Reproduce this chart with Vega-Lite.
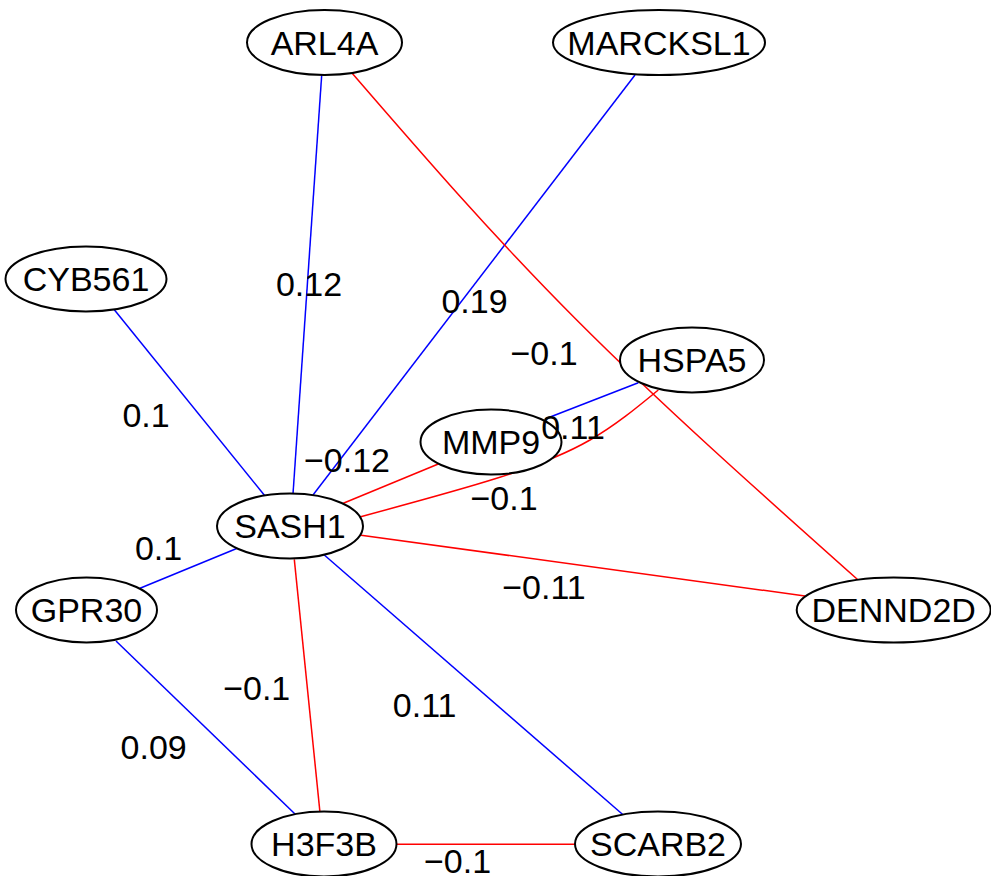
{
  "$schema": "https://vega.github.io/schema/vega-lite/v6.json",
  "width": 991,
  "height": 876,
  "padding": 0,
  "autosize": {"type": "none"},
  "background": "white",
  "config": {"view": {"stroke": null}},
  "datasets": {
    "nodes": [
      {"node": "ARL4A", "x": 324.5, "y": 42.5},
      {"node": "MARCKSL1", "x": 659, "y": 42.5},
      {"node": "CYB561", "x": 86, "y": 279},
      {"node": "HSPA5", "x": 692, "y": 360},
      {"node": "MMP9", "x": 491, "y": 442},
      {"node": "SASH1", "x": 290, "y": 526},
      {"node": "GPR30", "x": 86.5, "y": 610},
      {"node": "DENND2D", "x": 893.7, "y": 610},
      {"node": "H3F3B", "x": 324, "y": 844},
      {"node": "SCARB2", "x": 658, "y": 844}
    ],
    "edges": [
      {"edge": "ARL4A-SASH1", "i": 0, "x": 321.7, "y": 75, "w": 0.12},
      {"edge": "ARL4A-SASH1", "i": 1, "x": 293, "y": 494, "w": 0.12},
      {"edge": "MARCKSL1-SASH1", "i": 0, "x": 635, "y": 75, "w": 0.19},
      {"edge": "MARCKSL1-SASH1", "i": 1, "x": 313, "y": 495, "w": 0.19},
      {"edge": "ARL4A-DENND2D", "i": 0, "x": 351.7, "y": 72.7, "w": -0.1},
      {"edge": "ARL4A-DENND2D", "i": 1, "x": 576.7, "y": 320, "w": -0.1},
      {"edge": "ARL4A-DENND2D", "i": 2, "x": 857.3, "y": 579.3, "w": -0.1},
      {"edge": "CYB561-SASH1", "i": 0, "x": 112.7, "y": 307.7, "w": 0.1},
      {"edge": "CYB561-SASH1", "i": 1, "x": 265, "y": 496, "w": 0.1},
      {"edge": "HSPA5-MMP9", "i": 0, "x": 545, "y": 419, "w": 0.11},
      {"edge": "HSPA5-MMP9", "i": 1, "x": 638.3, "y": 382.7, "w": 0.11},
      {"edge": "SASH1-MMP9", "i": 0, "x": 343.3, "y": 503.3, "w": -0.12},
      {"edge": "SASH1-MMP9", "i": 1, "x": 438.3, "y": 464, "w": -0.12},
      {"edge": "SASH1-HSPA5", "i": 0, "x": 360.7, "y": 516.7, "w": -0.1},
      {"edge": "SASH1-HSPA5", "i": 1, "x": 496.7, "y": 478.3, "w": -0.1},
      {"edge": "SASH1-HSPA5", "i": 2, "x": 590, "y": 440, "w": -0.1},
      {"edge": "SASH1-HSPA5", "i": 3, "x": 658.3, "y": 390, "w": -0.1},
      {"edge": "SASH1-DENND2D", "i": 0, "x": 359.3, "y": 535, "w": -0.11},
      {"edge": "SASH1-DENND2D", "i": 1, "x": 805, "y": 596, "w": -0.11},
      {"edge": "SASH1-GPR30", "i": 0, "x": 237.3, "y": 548.3, "w": 0.1},
      {"edge": "SASH1-GPR30", "i": 1, "x": 140, "y": 588.3, "w": 0.1},
      {"edge": "SASH1-H3F3B", "i": 0, "x": 294.3, "y": 559.3, "w": -0.1},
      {"edge": "SASH1-H3F3B", "i": 1, "x": 320, "y": 812.7, "w": -0.1},
      {"edge": "SASH1-SCARB2", "i": 0, "x": 324.3, "y": 555, "w": 0.11},
      {"edge": "SASH1-SCARB2", "i": 1, "x": 623.3, "y": 815, "w": 0.11},
      {"edge": "GPR30-H3F3B", "i": 0, "x": 116, "y": 641, "w": 0.09},
      {"edge": "GPR30-H3F3B", "i": 1, "x": 295, "y": 814, "w": 0.09},
      {"edge": "H3F3B-SCARB2", "i": 0, "x": 396, "y": 844.3, "w": -0.1},
      {"edge": "H3F3B-SCARB2", "i": 1, "x": 576, "y": 844.3, "w": -0.1}
    ],
    "labels": [
      {"edge": "ARL4A-SASH1", "x": 309, "y": 284, "w": 0.12},
      {"edge": "MARCKSL1-SASH1", "x": 474.5, "y": 301, "w": 0.19},
      {"edge": "ARL4A-DENND2D", "x": 544, "y": 353, "w": -0.1},
      {"edge": "CYB561-SASH1", "x": 146, "y": 415, "w": 0.1},
      {"edge": "HSPA5-MMP9", "x": 573, "y": 427, "w": 0.11},
      {"edge": "SASH1-MMP9", "x": 347, "y": 460, "w": -0.12},
      {"edge": "SASH1-HSPA5", "x": 504, "y": 498, "w": -0.1},
      {"edge": "SASH1-GPR30", "x": 158.5, "y": 548, "w": 0.1},
      {"edge": "SASH1-DENND2D", "x": 544, "y": 586.5, "w": -0.11},
      {"edge": "SASH1-H3F3B", "x": 256.7, "y": 688, "w": -0.1},
      {"edge": "SASH1-SCARB2", "x": 424.7, "y": 705, "w": 0.11},
      {"edge": "GPR30-H3F3B", "x": 153.7, "y": 747, "w": 0.09},
      {"edge": "H3F3B-SCARB2", "x": 457.5, "y": 860.5, "w": -0.1}
    ]
  },
  "layer": [
    {
      "data": {"name": "edges"},
      "mark": {"type": "line", "interpolate": "natural", "strokeWidth": 1.5},
      "encoding": {
        "x": {"field": "x", "type": "quantitative", "scale": {"domain": [0, 991], "nice": false, "zero": false}, "axis": null},
        "y": {"field": "y", "type": "quantitative", "scale": {"domain": [0, 876], "nice": false, "zero": false, "reverse": true}, "axis": null},
        "detail": {"field": "edge", "type": "nominal"},
        "order": {"field": "i", "type": "quantitative"},
        "color": {"condition": {"test": "datum.w < 0", "value": "#ff0000"}, "value": "#0000ff"}
      }
    },
    {
      "data": {"name": "nodes"},
      "mark": {"type": "point", "filled": true, "fill": "white", "stroke": "black", "strokeWidth": 2, "opacity": 1, "fillOpacity": 1, "strokeOpacity": 1, "size": 40000},
      "encoding": {
        "x": {"field": "x", "type": "quantitative", "scale": {"domain": [0, 991], "nice": false, "zero": false}, "axis": null},
        "y": {"field": "y", "type": "quantitative", "scale": {"domain": [0, 876], "nice": false, "zero": false, "reverse": true}, "axis": null},
        "shape": {
          "field": "node", "type": "nominal", "legend": null,
          "scale": {
            "domain": ["ARL4A", "MARCKSL1", "CYB561", "HSPA5", "MMP9", "SASH1", "GPR30", "DENND2D", "H3F3B", "SCARB2"],
            "range": [
              "M-0.775,0A0.775,0.325,0,1,0,0.775,0A0.775,0.325,0,1,0,-0.775,0Z",
              "M-1.06,0A1.06,0.325,0,1,0,1.06,0A1.06,0.325,0,1,0,-1.06,0Z",
              "M-0.805,0A0.805,0.325,0,1,0,0.805,0A0.805,0.325,0,1,0,-0.805,0Z",
              "M-0.72,0A0.72,0.325,0,1,0,0.72,0A0.72,0.325,0,1,0,-0.72,0Z",
              "M-0.705,0A0.705,0.325,0,1,0,0.705,0A0.705,0.325,0,1,0,-0.705,0Z",
              "M-0.73,0A0.73,0.325,0,1,0,0.73,0A0.73,0.325,0,1,0,-0.73,0Z",
              "M-0.705,0A0.705,0.325,0,1,0,0.705,0A0.705,0.325,0,1,0,-0.705,0Z",
              "M-0.97,0A0.97,0.325,0,1,0,0.97,0A0.97,0.325,0,1,0,-0.97,0Z",
              "M-0.725,0A0.725,0.325,0,1,0,0.725,0A0.725,0.325,0,1,0,-0.725,0Z",
              "M-0.83,0A0.83,0.325,0,1,0,0.83,0A0.83,0.325,0,1,0,-0.83,0Z"
            ]
          }
        }
      }
    },
    {
      "data": {"name": "nodes"},
      "mark": {"type": "text", "font": "Liberation Sans", "fontSize": 34, "align": "center", "baseline": "alphabetic", "dy": 12, "color": "black"},
      "encoding": {
        "x": {"field": "x", "type": "quantitative", "scale": {"domain": [0, 991], "nice": false, "zero": false}, "axis": null},
        "y": {"field": "y", "type": "quantitative", "scale": {"domain": [0, 876], "nice": false, "zero": false, "reverse": true}, "axis": null},
        "text": {"field": "node", "type": "nominal"}
      }
    },
    {
      "data": {"name": "labels"},
      "mark": {"type": "text", "font": "Liberation Sans", "fontSize": 34, "align": "center", "baseline": "alphabetic", "dy": 12, "color": "black"},
      "encoding": {
        "x": {"field": "x", "type": "quantitative", "scale": {"domain": [0, 991], "nice": false, "zero": false}, "axis": null},
        "y": {"field": "y", "type": "quantitative", "scale": {"domain": [0, 876], "nice": false, "zero": false, "reverse": true}, "axis": null},
        "text": {"field": "w", "type": "quantitative", "format": ".2~f"}
      }
    }
  ]
}
